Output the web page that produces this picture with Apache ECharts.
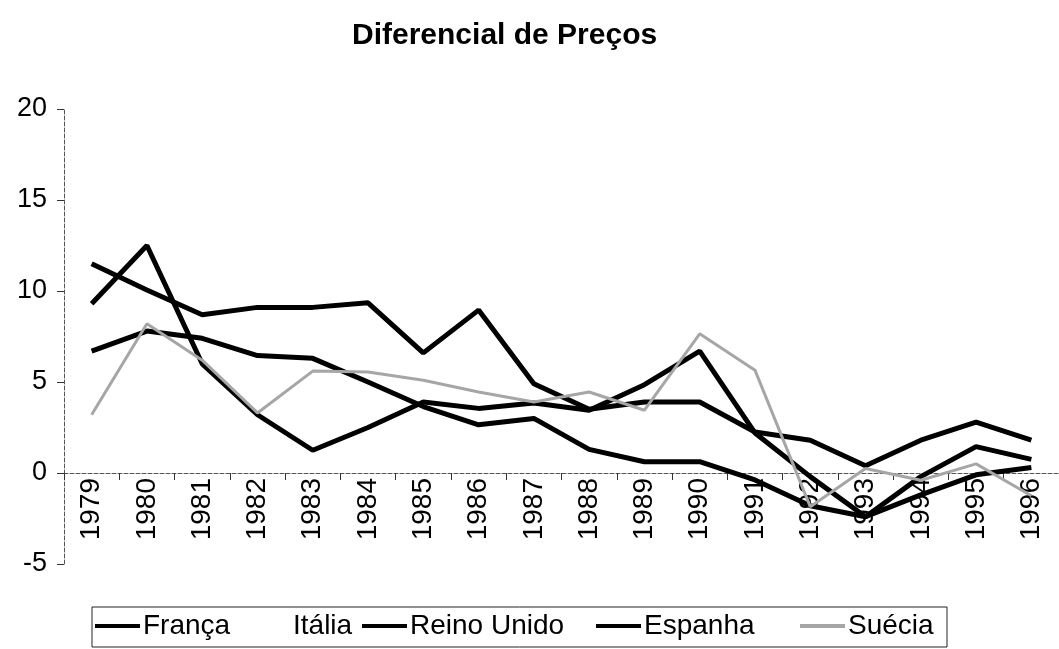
<!DOCTYPE html>
<html>
<head>
<meta charset="utf-8">
<script src="https://cdn.jsdelivr.net/npm/echarts@6/dist/echarts.min.js"></script>
<style>
  html, body { margin: 0; padding: 0; background: #fff; }
  #chart { width: 1059px; height: 649px; }
</style>
</head>
<body>
<div id="chart"></div>
<script>
  // anos no eixo x
  var anos = ['1979', '1980', '1981', '1982', '1983', '1984', '1985', '1986', '1987',
    '1988', '1989', '1990', '1991', '1992', '1993', '1994', '1995', '1996'];

  // diferencial de preços por país
  var franca = [6.7, 7.8, 7.4, 6.45, 6.3, 5.0, 3.65, 2.65, 3.0, 1.3, 0.62, 0.62, -0.38, -1.8, -2.4, -1.2, -0.1, 0.3];
  var italia = []; // não aparece no gráfico
  var reinoUnido = [9.3, 12.5, 6.0, 3.2, 1.25, 2.5, 3.9, 3.55, 3.85, 3.45, 4.85, 6.7, 2.2, -0.2, -2.4, -0.2, 1.45, 0.75];
  var espanha = [11.5, 10.05, 8.7, 9.1, 9.1, 9.35, 6.6, 8.95, 4.9, 3.5, 3.9, 3.9, 2.25, 1.8, 0.4, 1.8, 2.8, 1.8];
  var suecia = [3.2, 8.2, 6.2, 3.3, 5.6, 5.55, 5.1, 4.45, 3.9, 4.45, 3.45, 7.65, 5.65, -1.85, 0.25, -0.4, 0.5, -1.25];

  var nomes = ['França', 'Itália', 'Reino Unido', 'Espanha', 'Suécia'];
  // posição x de cada item da legenda
  var legendaX = [95, 245, 362, 596, 800];

  var fonte = 'Liberation Sans, Arial, sans-serif';

  var myChart = echarts.init(document.getElementById('chart'));

  function linha(nome, dados, cor, largura) {
    return {
      name: nome,
      type: 'line',
      data: dados,
      symbol: 'none',
      silent: true,
      lineStyle: { color: cor, width: largura },
      itemStyle: { color: cor }
    };
  }

  // uma legenda por item, para acertar os espaçamentos
  var legendas = nomes.map(function (nome, i) {
    return {
      data: [nome],
      left: legendaX[i],
      top: 612,
      padding: 0,
      itemWidth: 45,
      itemHeight: 4,
      icon: 'rect',
      selectedMode: false,
      textStyle: {
        fontFamily: fonte,
        fontSize: 28,
        color: '#000',
        padding: [0, 0, 0, -2]
      }
    };
  });

  var option = {
    backgroundColor: '#fff',
    animation: false,
    title: {
      text: 'Diferencial de Preços',
      left: 347,
      top: 16,
      textStyle: {
        fontFamily: fonte,
        fontWeight: 'bold',
        fontSize: 30,
        color: '#000'
      }
    },
    legend: legendas,
    graphic: [{
      type: 'rect',
      shape: { x: 92, y: 607, width: 855, height: 40 },
      style: { fill: 'none', stroke: '#222', lineWidth: 1 },
      silent: true
    }],
    grid: {
      left: 64,
      right: -14,
      top: 109,
      bottom: 85
    },
    xAxis: {
      type: 'category',
      data: anos,
      boundaryGap: true,
      position: 'bottom',
      offset: -91,
      axisLine: {
        onZero: false,
        lineStyle: { color: '#555', width: 1, type: 'dashed' }
      },
      axisTick: {
        show: true,
        length: 7,
        lineStyle: { color: '#333' }
      },
      axisLabel: {
        rotate: 90,
        margin: 5,
        interval: 0,
        fontFamily: fonte,
        fontSize: 28,
        color: '#000'
      },
      splitLine: { show: false }
    },
    yAxis: {
      type: 'value',
      min: -5,
      max: 20,
      interval: 5,
      axisLine: {
        show: true,
        lineStyle: { color: '#555', width: 1, type: 'dashed' }
      },
      axisTick: {
        show: true,
        length: 7,
        lineStyle: { color: '#333' }
      },
      axisLabel: {
        margin: 17,
        fontFamily: fonte,
        fontSize: 27,
        color: '#000'
      },
      splitLine: { show: false }
    },
    series: [
      linha('França', franca, '#000', 5),
      linha('Itália', italia, '#fff', 5),
      linha('Reino Unido', reinoUnido, '#000', 5),
      linha('Espanha', espanha, '#000', 5),
      linha('Suécia', suecia, '#a6a6a6', 3)
    ]
  };

  myChart.setOption(option);
</script>
</body>
</html>
